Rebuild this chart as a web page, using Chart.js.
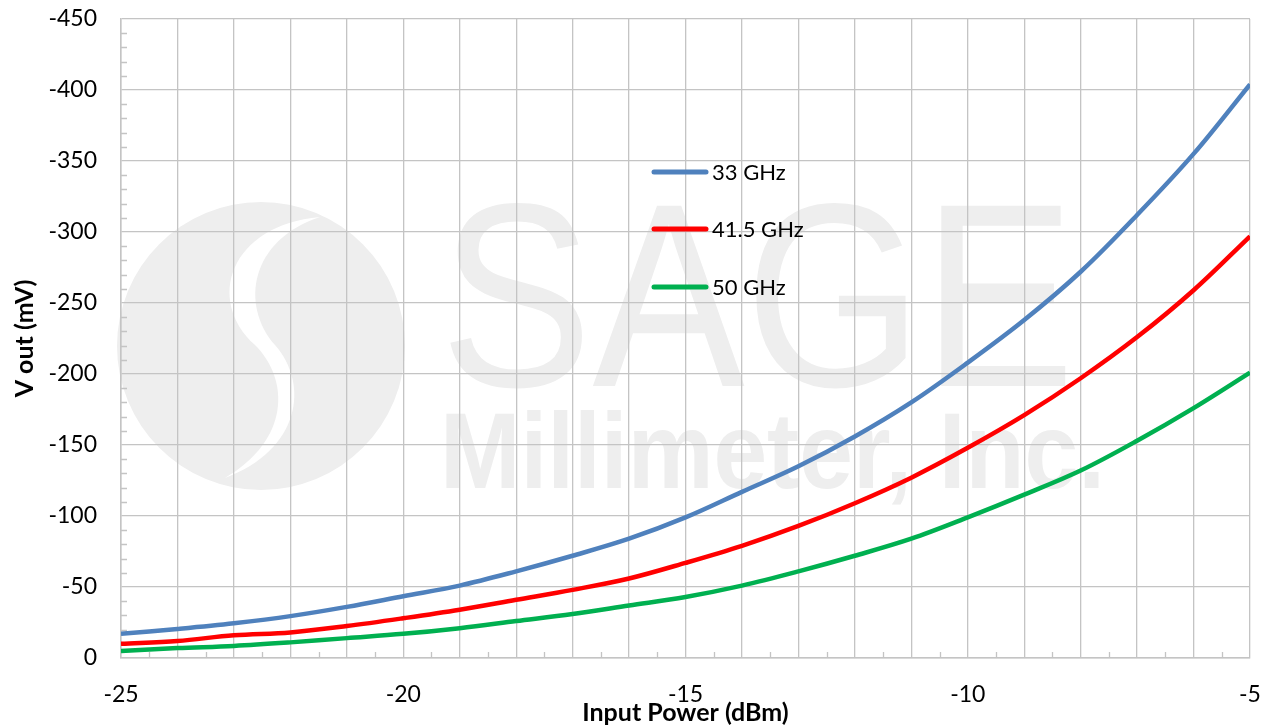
<!DOCTYPE html>
<html>
<head>
<meta charset="utf-8">
<script src="https://cdn.jsdelivr.net/npm/chart.js@4.4.0/dist/chart.umd.min.js"></script>
<style>
  html, body { margin: 0; padding: 0; background: #fff; }
  #wrap { width: 1269px; height: 727px; }
</style>
</head>
<body>
<div id="wrap"><canvas id="grafico"></canvas></div>
<script>
// ---------------------------------------------------------
// DATOS
// ---------------------------------------------------------
const potencias = [-25, -24, -23, -22, -21, -20, -19, -18, -17, -16, -15, -14, -13, -12, -11, -10, -9, -8, -7, -6, -5];
const vout33 = [-17, -20.5, -24.5, -29.5, -36, -43.5, -51, -61, -72, -84, -99, -117, -135, -156, -180, -208, -238, -272, -312, -355, -404];
const vout415 = [-10, -12, -16, -18, -22.5, -28, -34, -41, -48, -56, -67, -79, -93, -109, -127, -148, -171, -197, -226, -259, -297];
const vout50 = [-5, -7, -8.5, -11, -14, -17, -21, -26, -31, -37, -43, -51, -61, -72, -84, -99, -115, -132, -153, -176, -201];
const series = ['33 GHz', '41.5 GHz', '50 GHz'];
const colores = ['#4F81BD', '#FF0000', '#00B050'];

const FUENTE = 'Lato, "Open Sans", sans-serif';
const GRIS = '#c4c4c4';

const puntos = (vals) => potencias.map((p, i) => ({ x: p, y: vals[i] }));

// Marca de agua SAGE detrás de la rejilla
const marcaAgua = {
    id: 'marcaAgua',
    beforeDraw(chart) {
        const ctx = chart.ctx;
        ctx.save();
        ctx.fillStyle = '#eeeeee';
        // logo circular
        ctx.beginPath();
        ctx.arc(261, 346, 144, 0, Math.PI * 2);
        ctx.fill();
        ctx.fillStyle = '#ffffff';
        ctx.beginPath();
        ctx.moveTo(320, 217);
        ctx.bezierCurveTo(230, 225, 205, 300, 255, 345);
        ctx.bezierCurveTo(290, 380, 290, 440, 225, 478);
        ctx.bezierCurveTo(300, 450, 310, 385, 275, 345);
        ctx.bezierCurveTo(240, 305, 250, 240, 320, 217);
        ctx.fill();
        // texto
        ctx.fillStyle = '#eeeeee';
        ctx.textBaseline = 'alphabetic';
        ctx.textAlign = 'left';
        ctx.font = '300 262px "Liberation Sans", sans-serif';
        let w = ctx.measureText('SAGE').width;
        ctx.save();
        ctx.translate(440, 386);
        ctx.scale(635 / w, 1);
        ctx.fillText('SAGE', 0, 0);
        ctx.restore();
        ctx.font = 'bold 108px "Liberation Sans", sans-serif';
        w = ctx.measureText('Millimeter, Inc.').width;
        ctx.save();
        ctx.translate(440, 488);
        ctx.scale(665 / w, 1);
        ctx.fillText('Millimeter, Inc.', 0, 0);
        ctx.restore();
        ctx.restore();
    }
};

// Marcas menores hacia dentro en ambos ejes
const marcasMenores = {
    id: 'marcasMenores',
    beforeDatasetsDraw(chart) {
        const { ctx, chartArea, scales } = chart;
        ctx.save();
        ctx.strokeStyle = GRIS;
        ctx.lineWidth = 1.3;
        ctx.beginPath();
        for (let v = -440; v < 0; v += 10) {
            if (v % 50 === 0) continue;
            const y = Math.round(scales.y.getPixelForValue(v)) + 0.5;
            ctx.moveTo(chartArea.left, y);
            ctx.lineTo(chartArea.left + 6, y);
        }
        for (let v = -24.5; v < -5; v += 1) {
            const x = Math.round(scales.x.getPixelForValue(v)) + 0.5;
            ctx.moveTo(x, chartArea.bottom);
            ctx.lineTo(x, chartArea.bottom - 6);
        }
        ctx.stroke();
        ctx.restore();
    }
};

// Leyenda dentro del área de trazado
const leyenda = {
    id: 'leyenda',
    afterDraw(chart) {
        const ctx = chart.ctx;
        const ys = [172, 229, 287];
        ctx.save();
        ctx.font = '22px ' + FUENTE;
        ctx.textBaseline = 'middle';
        ctx.fillStyle = '#000';
        series.forEach((nombre, i) => {
            ctx.strokeStyle = colores[i];
            ctx.lineWidth = 5;
            ctx.lineCap = 'round';
            ctx.beginPath();
            ctx.moveTo(654, ys[i]);
            ctx.lineTo(706, ys[i]);
            ctx.stroke();
            ctx.fillText(nombre, 712, ys[i] + 1);
        });
        ctx.restore();
    }
};

new Chart(document.getElementById('grafico'), {
    type: 'line',
    data: {
        datasets: [
            { label: series[0], data: puntos(vout33), borderColor: colores[0] },
            { label: series[1], data: puntos(vout415), borderColor: colores[1] },
            { label: series[2], data: puntos(vout50), borderColor: colores[2] }
        ]
    },
    options: {
        responsive: true,
        maintainAspectRatio: false,
        animation: false,
        layout: { padding: { top: 19, right: 19, left: 0, bottom: 0 } },
        elements: {
            point: { radius: 0 },
            line: { borderWidth: 4.5, tension: 0.35 }
        },
        plugins: {
            legend: { display: false },
            tooltip: { enabled: false }
        },
        scales: {
            x: {
                type: 'linear',
                min: -25,
                max: -5,
                afterFit: (s) => { s.height = 69; s.paddingLeft = 0; s.paddingRight = 0; },
                ticks: {
                    stepSize: 1,
                    autoSkip: false,
                    maxRotation: 0,
                    padding: 23,
                    color: '#000',
                    font: { size: 23, family: FUENTE },
                    callback: (v) => (v % 5 === 0 ? v : '')
                },
                grid: { color: GRIS, lineWidth: 1.3, drawTicks: false },
                border: { color: GRIS, width: 1.5 },
                title: {
                    display: true,
                    text: 'Input Power (dBm)',
                    color: '#000',
                    font: { size: 25, weight: 'bold', family: FUENTE },
                    padding: { top: 0, bottom: -1 }
                }
            },
            y: {
                min: -450,
                max: 0,
                reverse: true,
                afterFit: (s) => { s.width = 121; s.paddingTop = 0; s.paddingBottom = 0; },
                ticks: {
                    stepSize: 50,
                    padding: 24,
                    color: '#000',
                    font: { size: 23, family: FUENTE }
                },
                grid: { color: GRIS, lineWidth: 1.3, drawTicks: false },
                border: { color: GRIS, width: 1.5 },
                title: {
                    display: true,
                    text: 'V out (mV)',
                    color: '#000',
                    font: { size: 25, weight: 'bold', family: FUENTE },
                    padding: { top: 10, bottom: 0 }
                }
            }
        }
    },
    plugins: [marcaAgua, marcasMenores, leyenda]
});
</script>
</body>
</html>
